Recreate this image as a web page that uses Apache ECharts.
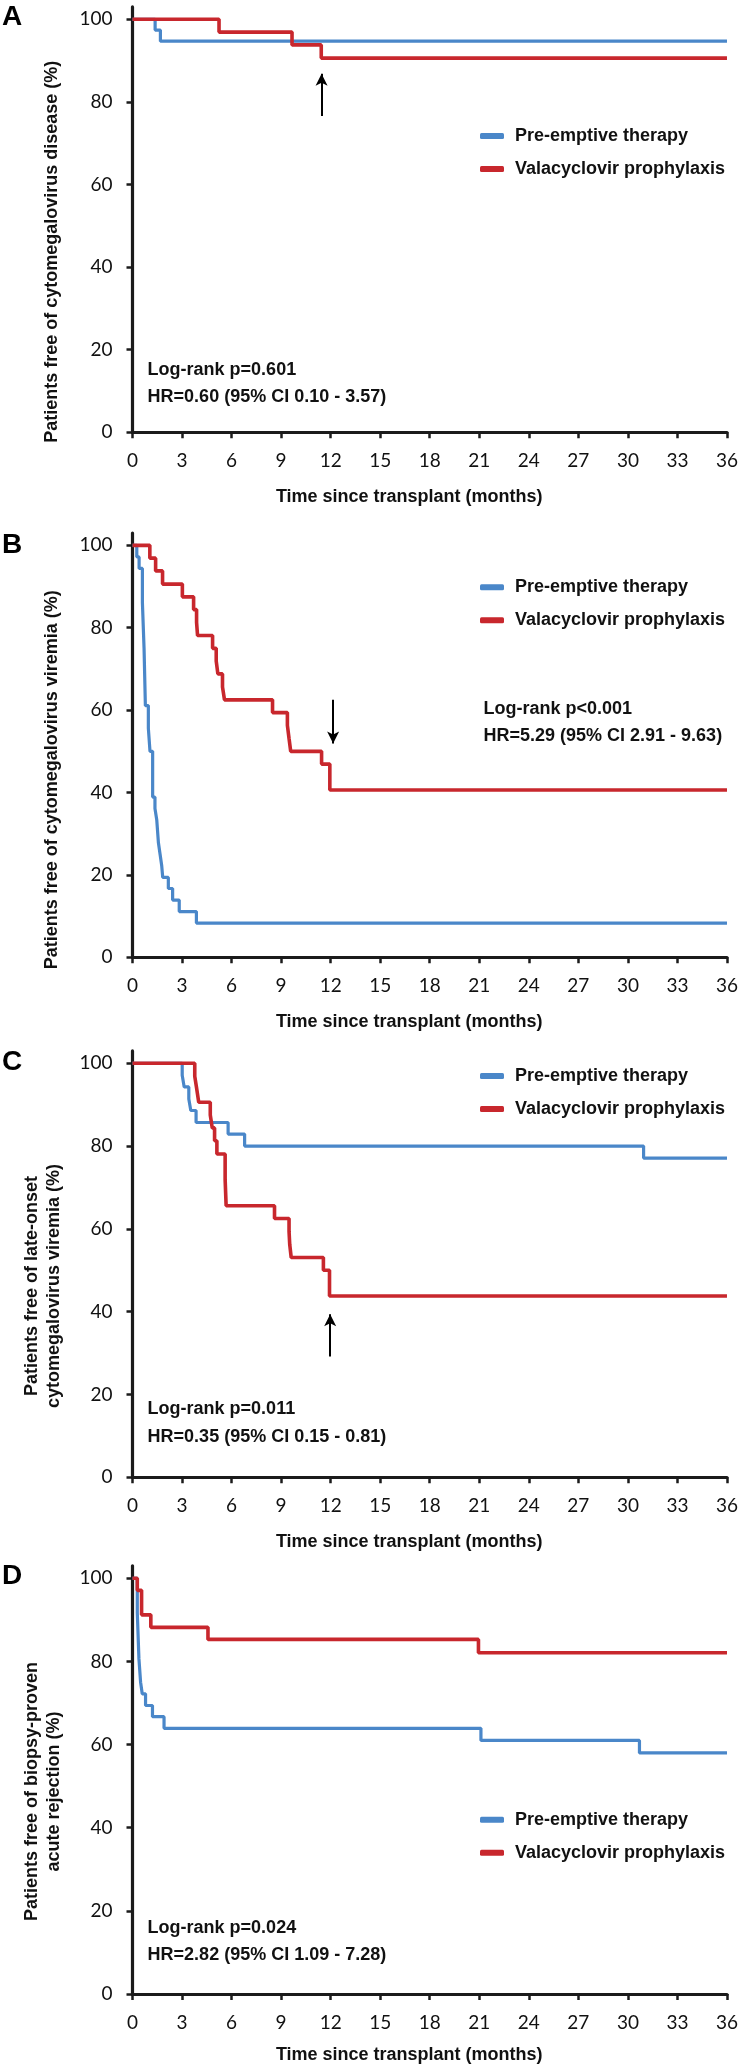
<!DOCTYPE html>
<html>
<head>
<meta charset="utf-8">
<script src="https://cdn.jsdelivr.net/npm/echarts@6/dist/echarts.min.js"></script>
<style>
  html, body { margin: 0; padding: 0; background: #fff; }
  #chart { width: 741px; height: 2066px; }
</style>
</head>
<body>
<div id="chart"></div>
<script>
// series names
const names = ['Pre-emptive therapy', 'Valacyclovir prophylaxis']
const yTicks = [0, 20, 40, 60, 80, 100]

// A - CMV disease
const timeA_pre = [0, 1.37, 1.69, 36]
const survA_pre = [100, 97.4, 94.7, 94.7]
const timeA_val = [0, 5.24, 9.66, 11.43, 36]
const survA_val = [100, 96.9, 93.8, 90.6, 90.6]

// B - CMV viremia
const timeB_pre = [0, 0.26, 0.40, 0.60, 0.70, 0.78, 0.96, 1.06, 1.22, 1.36, 1.47, 1.57, 1.67, 1.77, 1.83, 2.17, 2.43, 2.83, 3.87, 36]
const survB_pre = [100, 97.2, 94.4, 86.1, 75.0, 61.1, 55.6, 50.0, 38.9, 36.1, 33.3, 27.8, 25.0, 22.2, 19.4, 16.7, 13.9, 11.1, 8.3, 8.3]
const timeB_val = [0, 1.05, 1.40, 1.82, 3.02, 3.70, 3.88, 3.94, 4.85, 5.07, 5.17, 5.45, 5.57, 8.48, 9.38, 9.48, 9.58, 11.45, 11.95, 36]
const survB_val = [100, 96.9, 93.8, 90.6, 87.5, 84.4, 81.3, 78.1, 75.0, 71.9, 68.8, 65.6, 62.5, 59.4, 56.3, 53.1, 50.0, 46.9, 40.6, 40.6]

// C - late-onset CMV viremia
const timeC_pre = [0, 3.01, 3.13, 3.41, 3.53, 3.85, 5.79, 6.79, 30.95, 36]
const survC_pre = [100, 97.1, 94.3, 91.4, 88.6, 85.7, 82.9, 80.0, 77.1, 77.1]
const timeC_val = [0, 3.77, 3.89, 4.01, 4.71, 4.83, 4.97, 5.11, 5.61, 5.67, 8.60, 9.48, 9.52, 9.61, 11.56, 11.93, 36]
const survC_val = [100, 96.9, 93.8, 90.6, 87.5, 84.4, 81.3, 78.1, 71.9, 65.6, 62.5, 59.4, 56.3, 53.1, 50.0, 43.8, 43.8]

// D - biopsy-proven acute rejection
const timeD_pre = [0, 0.29, 0.39, 0.49, 0.59, 0.79, 1.21, 1.91, 21.1, 30.7, 36]
const survD_pre = [100, 91.7, 80.6, 75.0, 72.2, 69.4, 66.7, 63.9, 61.0, 58.0, 58.0]
const timeD_val = [0, 0.29, 0.55, 1.11, 4.57, 20.95, 36]
const survD_val = [100, 97.1, 91.2, 88.2, 85.3, 82.1, 82.1]

// arrows (month, tail value, head value), null = no arrow
const arrowX = [11.45, 12.15, 11.97, null]
const arrowFrom = [76.6, 62.5, 29.2, null]
const arrowTo = [86.8, 51.9, 39.4, null]

const letters = ['A', 'B', 'C', 'D']
const yTitles = [
  'Patients free of cytomegalovirus disease (%)',
  'Patients free of cytomegalovirus viremia (%)',
  'Patients free of late-onset\ncytomegalovirus viremia (%)',
  'Patients free of biopsy-proven\nacute rejection (%)',
]
const logRank = ['Log-rank p=0.601', 'Log-rank p<0.001', 'Log-rank p=0.011', 'Log-rank p=0.024']
const hazard = [
  'HR=0.60 (95% CI 0.10 - 3.57)',
  'HR=5.29 (95% CI 2.91 - 9.63)',
  'HR=0.35 (95% CI 0.15 - 0.81)',
  'HR=2.82 (95% CI 1.09 - 7.28)',
]

const panels = [
  { pre: [timeA_pre, survA_pre], val: [timeA_val, survA_val] },
  { pre: [timeB_pre, survB_pre], val: [timeB_val, survB_val] },
  { pre: [timeC_pre, survC_pre], val: [timeC_val, survC_val] },
  { pre: [timeD_pre, survD_pre], val: [timeD_val, survD_val] },
]

// layout
const grids = [
  { top: 6.9, height: 425.4 },
  { top: 533, height: 424.3 },
  { top: 1050.9, height: 426.4 },
  { top: 1565.8, height: 428.2 },
]
const legendTop = [127, 578.3, 1067, 1810.8]
const letterY = [17.5, 545, 1062.5, 1576]
const yTitlePos = [[52, 251.7], [52, 779.7], [43.2, 1286], [43.2, 1791.5]]
const notePos = [[147.6, 370, 396.7], [483.5, 709.3, 736], [147.6, 1409.3, 1436.7], [147.6, 1927.7, 1954.7]]
const xNameGap = [56, 56, 56, 52]

const BLUE = '#4a87c9'
const RED = '#c8272d'
const AXIS = '#1b1b1b'
const boldFont = 'Liberation Sans, Arial, sans-serif'
const tickFont = 'Lato, Open Sans, sans-serif'

const pairs = (t, s) => t.map((v, i) => [v, s[i]])

const chart = echarts.init(document.getElementById('chart'), null, { renderer: 'canvas' })

const series = []
panels.forEach((p, i) => {
  series.push({
    name: names[0],
    type: 'line',
    step: 'end',
    xAxisIndex: i,
    yAxisIndex: i,
    data: pairs(p.pre[0], p.pre[1]),
    showSymbol: false,
    color: BLUE,
    lineStyle: { color: BLUE, width: 3.2 },
  })
  const red = {
    name: names[1],
    type: 'line',
    step: 'end',
    xAxisIndex: i,
    yAxisIndex: i,
    data: pairs(p.val[0], p.val[1]),
    showSymbol: false,
    color: RED,
    lineStyle: { color: RED, width: 3.6 },
  }
  if (arrowX[i] !== null) {
    red.markLine = {
      silent: true,
      symbol: ['none', 'arrow'],
      symbolSize: [9, 12],
      label: { show: false },
      lineStyle: { color: '#000', width: 2, type: 'solid' },
      data: [[{ coord: [arrowX[i], arrowFrom[i]] }, { coord: [arrowX[i], arrowTo[i]] }]],
    }
  }
  series.push(red)
})

const graphic = []
letters.forEach((l, i) => {
  graphic.push({
    type: 'text', x: 2, y: letterY[i],
    style: { text: l, fill: '#000', font: 'bold 28px ' + boldFont, textAlign: 'left', textVerticalAlign: 'middle', align: 'left', verticalAlign: 'middle' },
  })
  graphic.push({
    type: 'text', x: yTitlePos[i][0], y: yTitlePos[i][1], rotation: Math.PI / 2,
    style: { text: yTitles[i], fill: '#111', font: 'bold 18px ' + boldFont, lineHeight: 22.5, textAlign: 'center', textVerticalAlign: 'middle', align: 'center', verticalAlign: 'middle' },
  })
  graphic.push({
    type: 'text', x: notePos[i][0], y: notePos[i][1],
    style: { text: logRank[i], fill: '#111', font: 'bold 18px ' + boldFont, textAlign: 'left', textVerticalAlign: 'middle', align: 'left', verticalAlign: 'middle' },
  })
  graphic.push({
    type: 'text', x: notePos[i][0], y: notePos[i][2],
    style: { text: hazard[i], fill: '#111', font: 'bold 18px ' + boldFont, textAlign: 'left', textVerticalAlign: 'middle', align: 'left', verticalAlign: 'middle' },
  })
})

const option = {
  animation: false,
  backgroundColor: '#fff',
  grid: grids.map((g) => ({ left: 132.5, width: 596, top: g.top, height: g.height, containLabel: false })),
  xAxis: grids.map((g, i) => ({
    type: 'value',
    gridIndex: i,
    min: 0,
    max: 36,
    interval: 3,
    name: 'Time since transplant (months)',
    nameLocation: 'middle',
    nameGap: xNameGap[i],
    nameTextStyle: { fontFamily: boldFont, fontWeight: 'bold', fontSize: 18, color: '#111', padding: [0, 41, 0, 0] },
    axisLine: { show: true, onZero: false, lineStyle: { color: AXIS, width: 3.2 } },
    axisTick: { show: true, length: 6, lineStyle: { color: AXIS, width: 2.5 } },
    axisLabel: { fontFamily: tickFont, fontSize: 19, color: '#111', margin: 19 },
    splitLine: { show: false },
  })),
  yAxis: grids.map((g, i) => ({
    type: 'value',
    gridIndex: i,
    min: 0,
    max: 103,
    axisLine: { show: true, onZero: false, lineStyle: { color: AXIS, width: 3.2 } },
    axisTick: { show: true, length: 6, customValues: yTicks, lineStyle: { color: AXIS, width: 2.5 } },
    axisLabel: { fontFamily: tickFont, fontSize: 19, color: '#111', margin: 20, customValues: yTicks },
    splitLine: { show: false },
  })),
  legend: legendTop.map((t) => ({
    left: 480,
    top: t,
    padding: 0,
    orient: 'vertical',
    icon: 'roundRect',
    itemWidth: 24,
    itemHeight: 6,
    itemGap: 15,
    selectedMode: false,
    data: names,
    textStyle: { fontFamily: boldFont, fontWeight: 'bold', fontSize: 18, color: '#111', padding: [0, 0, 0, 6] },
  })),
  series: series,
  graphic: graphic,
}

chart.setOption(option)
</script>
</body>
</html>
